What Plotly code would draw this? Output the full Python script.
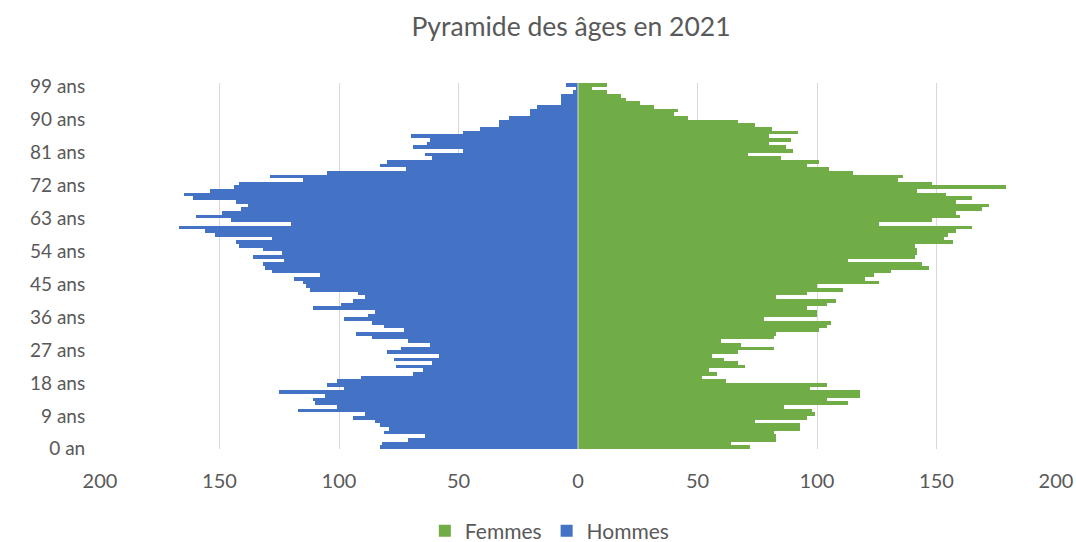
import plotly.graph_objects as go

# ages 0 .. 99
ages = list(range(100))

hommes = [83, 82, 71, 64, 81, 79, 83, 85, 94, 89,
          117, 101, 110, 111, 106, 125, 98, 105, 101, 91,
          69, 65, 76, 61, 77, 58, 80, 74, 62, 71,
          86, 93, 73, 81, 86, 98, 88, 85, 111, 99,
          94, 89, 92, 112, 114, 115, 119, 108, 128, 131,
          132, 123, 136, 124, 132, 142, 143, 128, 152, 156,
          167, 120, 145, 160, 149, 141, 138, 143, 161, 165,
          154, 144, 142, 115, 129, 105, 72, 83, 80, 61,
          64, 48, 69, 63, 62, 70, 48, 41, 33, 33,
          29, 20, 20, 17, 7, 7, 7, 2, 1, 5]

femmes = [72, 64, 83, 83, 82, 93, 93, 74, 96, 99,
          98, 86, 113, 104, 118, 118, 97, 104, 62, 52,
          58, 55, 70, 67, 61, 56, 67, 82, 68, 60,
          82, 83, 101, 104, 106, 78, 100, 100, 96, 104,
          108, 83, 96, 111, 100, 126, 120, 124, 131, 147,
          144, 113, 141, 142, 142, 141, 157, 153, 155, 158,
          165, 126, 148, 160, 158, 169, 172, 158, 165, 154,
          142, 179, 148, 134, 136, 115, 105, 96, 101, 85,
          71, 90, 87, 80, 89, 80, 92, 81, 74, 67,
          46, 40, 42, 32, 26, 20, 18, 12, 6, 12]

age_ticks = [0, 9, 18, 27, 36, 45, 54, 63, 72, 81, 90, 99]
age_labels = ["0 an", "9 ans", "18 ans", "27 ans", "36 ans", "45 ans",
              "54 ans", "63 ans", "72 ans", "81 ans", "90 ans", "99 ans"]

x_ticks = [-200, -150, -100, -50, 0, 50, 100, 150, 200]
x_labels = ["200", "150", "100", "50", "0", "50", "100", "150", "200"]

txt = "#595959"
font = "Lato"

fig = go.Figure()
fig.add_trace(go.Bar(y=ages, x=femmes, orientation="h", name="Femmes",
                     marker=dict(color="#70AD47", line_width=0)))
fig.add_trace(go.Bar(y=ages, x=[-v for v in hommes], orientation="h", name="Hommes",
                     marker=dict(color="#4472C4", line_width=0)))

# axe vertical au centre
fig.add_shape(type="line", x0=0, x1=0, y0=-0.5, y1=99.5, xref="x", yref="y",
              line=dict(color="#d9d9d9", width=1), layer="above")

fig.update_layout(
    width=1076, height=542,
    barmode="relative", bargap=0,
    paper_bgcolor="white", plot_bgcolor="white",
    margin=dict(l=100, r=20, t=83, b=93, autoexpand=False),
    font=dict(family=font, color=txt, size=19),
    title=dict(text="Pyramide des âges en 2021", x=571 / 1076, xref="container",
               xanchor="center", y=1 - 27 / 542, yanchor="middle",
               font=dict(size=26.5, color=txt, family=font)),
    legend=dict(orientation="h", x=0.511, xref="container", xanchor="center",
                y=11 / 542, yref="container", yanchor="middle",
                font=dict(size=21, color=txt), traceorder="normal"),
    showlegend=True,
)
fig.update_xaxes(range=[-200, 200], tickvals=x_ticks, ticktext=x_labels,
                 showgrid=True, gridcolor="#d9d9d9", gridwidth=1,
                 zeroline=False, showline=False, automargin=False,
                 ticks="outside", ticklen=14, tickcolor="rgba(0,0,0,0)",
                 tickfont=dict(size=20, color=txt))
# les libellés Excel sont un peu plus bas que le centre des barres
fig.update_yaxes(range=[-0.5, 99.5], tickvals=[a - 0.45 for a in age_ticks],
                 ticktext=age_labels,
                 showgrid=False, zeroline=False, showline=False, automargin=False,
                 ticks="outside", ticklen=10, tickcolor="rgba(0,0,0,0)",
                 tickfont=dict(size=19, color=txt))

fig.write_html("out.html", config={"displayModeBar": False},
               post_script="document.body.style.margin='0';")
